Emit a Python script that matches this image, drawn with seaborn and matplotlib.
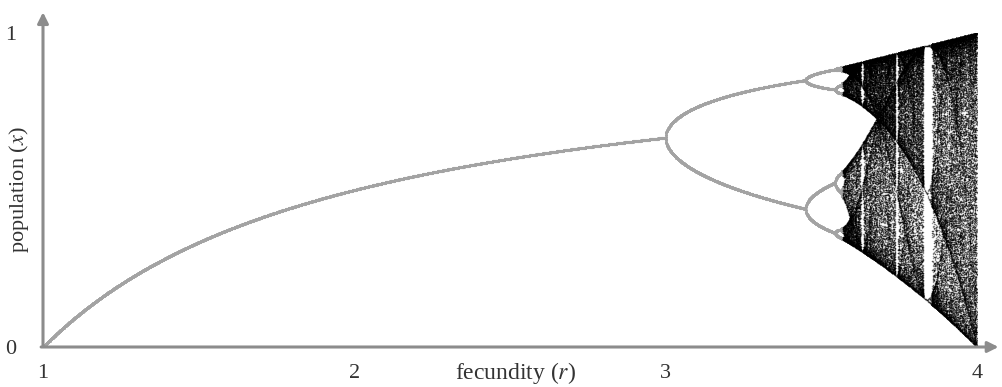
import numpy as np
import pandas as pd
import matplotlib
matplotlib.use("Agg")
import matplotlib.pyplot as plt
import seaborn as sns

# 軸與標籤
r_start, r_end = 1.0, 4.0
r_chaos = 3.5699
x_ticks = [1, 2, 3, 4]
x_tick_labels = ["1", "2", "3", "4"]
y_ticks = [0, 1]
y_tick_labels = ["0", "1"]
x_label = "fecundity ($r$)"
y_label = "population ($x$)"

# logistic map 迭代設定
n_r = 3000
n_transient = 2000
n_keep = 160
x_init = 0.5

sns.set_style("white")
plt.rcParams['font.family'] = ['Liberation Serif', 'DejaVu Serif']
plt.rcParams['mathtext.fontset'] = 'stix'

# -----------------------------------------------------
# 計算分岔圖資料
# -----------------------------------------------------
r = np.linspace(r_start, r_end, n_r)
x = np.full(n_r, x_init)
for _ in range(n_transient):
    x = r * x * (1 - x)
orbit = np.empty((n_keep, n_r))
for i in range(n_keep):
    x = r * x * (1 - x)
    orbit[i] = x

orbit = np.sort(orbit, axis=0)
new_val = np.vstack([np.ones((1, n_r), bool), np.diff(orbit, axis=0) > 2e-3])
n_unique = new_val.sum(axis=0)
chaotic = (n_unique > 24) | (r > r_chaos)
keep = new_val | (n_unique > 24)[None, :]

R = np.broadcast_to(r, orbit.shape)
df = pd.DataFrame({
    "r": R[keep],
    "x": orbit[keep],
    "chaotic": np.broadcast_to(chaotic, orbit.shape)[keep],
})

# -----------------------------------------------------
# 繪圖
# -----------------------------------------------------
fig = plt.figure(figsize=(10.03, 3.87), dpi=100)
ax = fig.add_axes([43 / 1003, 40 / 387, 934 / 1003, 314 / 387])

sns.scatterplot(data=df[~df["chaotic"]], x="r", y="x", ax=ax, s=5,
                color="#a3a3a3", linewidth=0, legend=False, rasterized=True)
sns.scatterplot(data=df[df["chaotic"]], x="r", y="x", ax=ax, s=1.1,
                color="black", alpha=0.42, linewidth=0, legend=False, rasterized=True)

ax.set_xlim(r_start, r_end)
ax.set_ylim(0, 1)
for s in ax.spines.values():
    s.set_visible(False)

axis_gray = "#8c8c8c"
arrow_kw = dict(arrowstyle="-|>", lw=2.2, mutation_scale=16,
                color=axis_gray, facecolor="black")
ax.annotate("", xy=(1.026, 0), xytext=(-0.005, 0), xycoords="axes fraction",
            arrowprops=arrow_kw, annotation_clip=False)
ax.annotate("", xy=(0, 1.075), xytext=(0, -0.005), xycoords="axes fraction",
            arrowprops=arrow_kw, annotation_clip=False)

ax.set_xticks(x_ticks)
ax.set_xticklabels(x_tick_labels)
ax.set_yticks(y_ticks)
ax.set_yticklabels(y_tick_labels)
ax.tick_params(axis="x", direction="inout", length=9, width=1, color="#777777",
               labelsize=16, pad=8, labelcolor="#333333")
ax.tick_params(axis="y", direction="inout", length=14, width=1, color="#777777",
               labelsize=16, pad=12, labelcolor="#333333")

ax.set_xlabel(x_label, fontsize=17, color="#333333")
ax.set_ylabel(y_label, fontsize=16, color="#333333")
ax.xaxis.set_label_coords(0.506, -0.04)
ax.yaxis.set_label_coords(-0.013, 0.5)

fig.savefig("out.png", dpi=100)
